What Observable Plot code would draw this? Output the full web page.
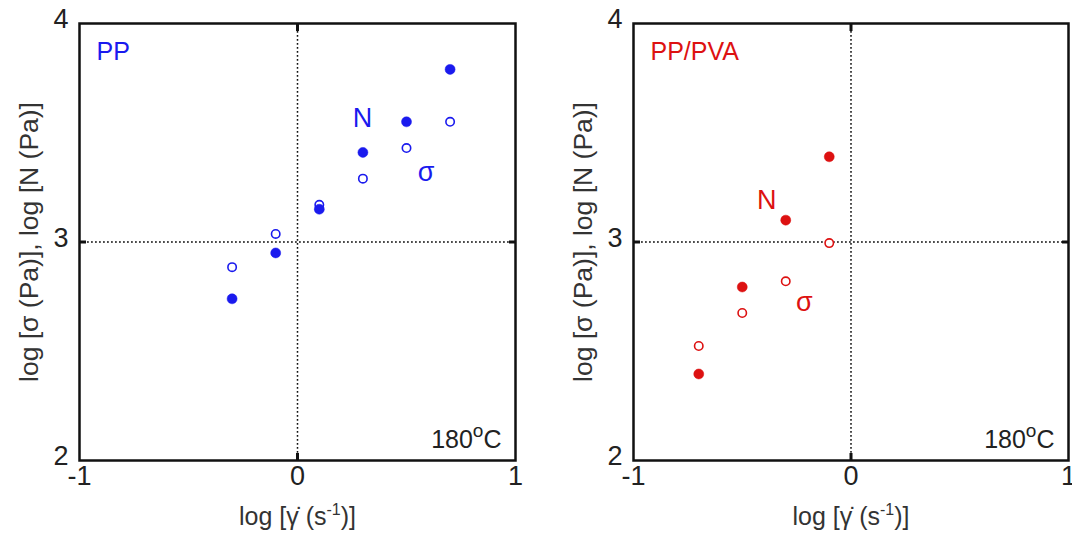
<!DOCTYPE html>
<html>
<head>
<meta charset="utf-8">
<script src="https://cdn.jsdelivr.net/npm/d3@7"></script>
<script src="https://cdn.jsdelivr.net/npm/@observablehq/plot@0.6"></script>
<style>
  html, body { margin: 0; padding: 0; background: #fff; }
  #wrap { display: flex; width: 1072px; height: 533px; }
  #wrap svg { display: block; overflow: visible; }
</style>
</head>
<body>
<div id="wrap"></div>
<script>
// ---- data ----
const ppRate = [-0.3, -0.1, 0.1, 0.3, 0.5, 0.7];
const ppN     = [2.74, 2.95, 3.15, 3.41, 3.55, 3.79];
const ppSigma = [2.885, 3.037, 3.17, 3.29, 3.43, 3.55];

const pvaRate = [-0.7, -0.5, -0.3, -0.1];
const pvaN     = [2.396, 2.794, 3.10, 3.39];
const pvaSigma = [2.524, 2.675, 2.82, 2.995];

const xTicks = [-1, 0, 1];
const yTicks = [2, 3, 4];
const xLabel = "log [γ̇ (s-1)]";
const yLabel = "log [σ (Pa)], log [N (Pa)]";
const tempLabel = "180oC";

// label positions (data coords) for the N / σ annotations
const ppNotes  = [{t: "N", x: 0.298, y: 3.565}, {t: "σ", x: 0.59, y: 3.32}];
const pvaNotes = [{t: "N", x: -0.387, y: 3.19}, {t: "σ", x: -0.215, y: 2.725}];

const BLUE = "#1a1aee";
const RED = "#dd1111";
const FONT = "'Liberation Sans', Arial, sans-serif";

function rows(xs, ys) { return xs.map((x, i) => ({x, y: ys[i]})); }

function panel({title, color, rate, nVals, sVals, notes, marginLeft, marginRight}) {
  const W = 536, H = 533;
  const svg = Plot.plot({
    width: W, height: H,
    marginLeft, marginRight, marginTop: 23, marginBottom: 73,
    style: {fontFamily: FONT, fontSize: "25px", color: "#222", background: "white", overflow: "visible"},
    x: {domain: [-1, 1]},
    y: {domain: [2, 4]},
    marks: [
      Plot.ruleX([0], {stroke: "#111", strokeWidth: 1.5, strokeDasharray: "1.8,2.2"}),
      Plot.ruleY([3], {stroke: "#111", strokeWidth: 1.5, strokeDasharray: "1.8,2.2"}),
      Plot.axisX({anchor: "bottom", ticks: xTicks, tickSize: 0, tickPadding: 5, label: null,
                  tickFormat: d => (d < 0 ? "-" + Math.abs(d) : String(d))}),
      Plot.axisY({anchor: "left", ticks: yTicks, tickSize: 0, tickPadding: 11, label: null, dy: -4,
                  tickFormat: d => String(d)}),
      Plot.axisX({anchor: "bottom", ticks: [0], tickSize: -7, text: null, label: null, stroke: "#111", strokeWidth: 3}),
      Plot.axisX({anchor: "top", ticks: [0], tickSize: -7, text: null, label: null, stroke: "#111", strokeWidth: 3}),
      Plot.axisY({anchor: "left", ticks: [3], tickSize: -7, text: null, label: null, stroke: "#111", strokeWidth: 3}),
      Plot.axisY({anchor: "right", ticks: [3], tickSize: -7, text: null, label: null, stroke: "#111", strokeWidth: 3}),
      Plot.frame({stroke: "#111", strokeWidth: 2.5}),
      Plot.dot(rows(rate, sVals), {x: "x", y: "y", r: 4.2, stroke: color, strokeWidth: 1.6, fill: "white"}),
      Plot.dot(rows(rate, nVals), {x: "x", y: "y", r: 5, fill: color, stroke: color, strokeWidth: 0.5}),
      Plot.text([title], {frameAnchor: "top-left", dx: 17, dy: 19, lineAnchor: "top", textAnchor: "start",
                          fill: color, fontSize: 25}),
      Plot.text(notes, {x: "x", y: "y", text: "t", fill: color, fontSize: 27, lineAnchor: "middle", textAnchor: "middle"}),
      Plot.text([tempLabel], {frameAnchor: "bottom-right", dx: -14, dy: -13, textAnchor: "end", lineAnchor: "bottom",
                              fill: "#222", fontSize: 25}),
      Plot.text([xLabel], {frameAnchor: "bottom", dy: 56, lineAnchor: "middle", textAnchor: "middle",
                           fill: "#333", fontSize: 25}),
      Plot.text([yLabel], {frameAnchor: "left", dx: -50, rotate: -90, lineAnchor: "middle", textAnchor: "middle",
                           fill: "#333", fontSize: 26.5})
    ]
  });
  // larger tick labels
  d3.select(svg).selectAll('g[aria-label="x-axis tick label"], g[aria-label="y-axis tick label"]')
    .attr("font-size", 27).attr("fill", "#222");
  // superscripts
  d3.select(svg).selectAll("text").each(function() {
    const el = d3.select(this);
    const txt = this.textContent;
    if (txt === xLabel) {
      el.text(null);
      el.append("tspan").text("log [γ̇ (s");
      el.append("tspan").attr("dy", -10).attr("font-size", 16).text("-1");
      el.append("tspan").attr("dy", 10).text(")]");
    } else if (txt === tempLabel) {
      el.text(null);
      el.append("tspan").text("180");
      el.append("tspan").attr("dy", -11).attr("font-size", 19).text("o");
      el.append("tspan").attr("dy", 11).text("C");
    }
  });
  return svg;
}

const wrap = document.getElementById("wrap");
wrap.appendChild(panel({title: "PP", color: BLUE, rate: ppRate, nVals: ppN, sVals: ppSigma,
                        notes: ppNotes, marginLeft: 79, marginRight: 21}));
wrap.appendChild(panel({title: "PP/PVA", color: RED, rate: pvaRate, nVals: pvaN, sVals: pvaSigma,
                        notes: pvaNotes, marginLeft: 97, marginRight: 4}));
</script>
</body>
</html>
